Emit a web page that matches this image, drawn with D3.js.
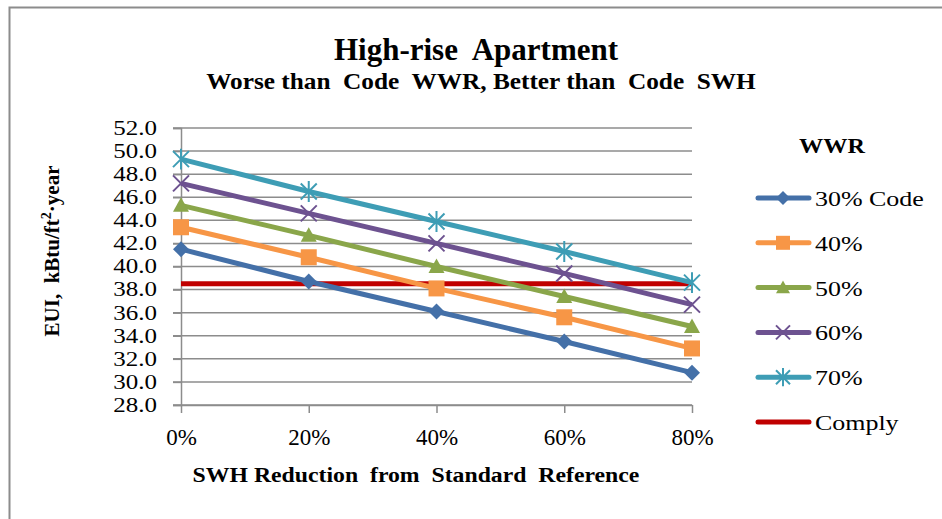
<!DOCTYPE html>
<html>
<head>
<meta charset="utf-8">
<script src="https://cdn.jsdelivr.net/npm/d3@7"></script>
<style>
  body { margin: 0; background: #fff; }
  svg { display: block; font-family: 'Liberation Serif', 'Times New Roman', serif; }
  svg text { white-space: pre; }
</style>
</head>
<body>
<div id="chart"></div>
<script>
// data
const categories = ['0%', '20%', '40%', '60%', '80%'];
const seriesNames = ['30% Code', '40%', '50%', '60%', '70%'];
const code30 = [41.5, 38.7, 36.1, 33.5, 30.8];
const wwr40 = [43.4, 40.8, 38.1, 35.6, 32.9];
const wwr50 = [45.3, 42.7, 40.0, 37.4, 34.8];
const wwr60 = [47.2, 44.6, 42.0, 39.4, 36.7];
const wwr70 = [49.3, 46.5, 43.9, 41.3, 38.6];
const comply = [38.5, 38.5, 38.5, 38.5, 38.5];
const yTicks = [28, 30, 32, 34, 36, 38, 40, 42, 44, 46, 48, 50, 52];

const width = 942;
const height = 519;

const colors = ['#4470a8', '#f79646', '#8aa64a', '#6d5290', '#3e9db5'];
const markers = ['diamond', 'square', 'triangle', 'x', 'star'];
const series = [code30, wwr40, wwr50, wwr60, wwr70];

const svg = d3
  .select('#chart')
  .append('svg')
  .attr('width', width)
  .attr('height', height);

// outer chart border (only top and left visible)
svg
  .append('rect')
  .attr('x', 9.5)
  .attr('y', 7.5)
  .attr('width', 1000)
  .attr('height', 600)
  .attr('fill', 'none')
  .attr('stroke', '#8c8c8c')
  .attr('stroke-width', 2);

const x = d3.scalePoint().domain(categories).range([181, 692]);
const y = d3.scaleLinear().domain([28, 52]).range([405, 128]);

// text in the reference is a bit wider than Times, stretch it
function stretch(sel, sx, origin) {
  sel
    .style('transform-box', 'fill-box')
    .style('transform-origin', origin)
    .style('transform', `scaleX(${sx})`);
}

// titles
svg
  .append('text')
  .attr('x', 476)
  .attr('y', 60)
  .attr('text-anchor', 'middle')
  .style('font-size', '31px')
  .style('font-weight', 'bold')
  .text('High-rise  Apartment');

svg
  .append('text')
  .attr('x', 481)
  .attr('y', 89)
  .attr('text-anchor', 'middle')
  .style('font-size', '23px')
  .style('font-weight', 'bold')
  .call(stretch, 1.1, 'center center')
  .text('Worse than  Code  WWR, Better than  Code  SWH');

// gridlines
svg
  .append('g')
  .attr('stroke', '#8c8c8c')
  .attr('stroke-width', 1.5)
  .selectAll('line')
  .data(yTicks)
  .join('line')
  .attr('x1', 173)
  .attr('x2', 692)
  .attr('y1', (d) => y(d))
  .attr('y2', (d) => y(d));

// y axis
const yAxis = svg
  .append('g')
  .attr('transform', 'translate(181,0)')
  .call(
    d3
      .axisLeft(y)
      .tickValues(yTicks)
      .tickFormat(d3.format('.1f'))
      .tickSize(8)
      .tickPadding(16)
  );
yAxis.attr('font-family', null).attr('font-size', null);
yAxis.select('.domain').attr('stroke', '#8c8c8c').attr('stroke-width', 1.5);
yAxis.selectAll('.tick line').attr('stroke', '#8c8c8c').attr('stroke-width', 1.5);
yAxis
  .selectAll('.tick text')
  .style('font-size', '20px')
  .attr('fill', '#000')
  .call(stretch, 1.25, 'right center');

// x axis
const xAxis = svg
  .append('g')
  .attr('transform', 'translate(0,405)')
  .call(d3.axisBottom(x).tickSize(8).tickPadding(16).tickSizeOuter(0));
xAxis.attr('font-family', null).attr('font-size', null);
xAxis.select('.domain').attr('stroke', '#8c8c8c').attr('stroke-width', 1.5);
xAxis.selectAll('.tick line').attr('stroke', '#8c8c8c').attr('stroke-width', 1.5);
xAxis
  .selectAll('.tick text')
  .style('font-size', '23px')
  .attr('fill', '#000');

// axis titles
svg
  .append('text')
  .attr('x', 416)
  .attr('y', 482)
  .attr('text-anchor', 'middle')
  .style('font-size', '22px')
  .style('font-weight', 'bold')
  .call(stretch, 1.08, 'center center')
  .text('SWH Reduction  from  Standard  Reference');

const yTitle = svg
  .append('text')
  .attr('transform', 'translate(59,251) rotate(-90)')
  .attr('text-anchor', 'middle')
  .style('font-size', '21px')
  .style('font-weight', 'bold');
yTitle.append('tspan').text('EUI,  kBtu/ft');
yTitle.append('tspan').attr('dy', -8).style('font-size', '14px').text('2');
yTitle.append('tspan').attr('dy', 8).text('·year');

// marker paths
function markerPath(type, s) {
  if (type === 'diamond')
    return `M0,${-s}L${s},0L0,${s}L${-s},0Z`;
  if (type === 'square')
    return `M${-s},${-s}H${s}V${s}H${-s}Z`;
  if (type === 'triangle')
    return `M0,${-s}L${s},${s * 0.8}H${-s}Z`;
  if (type === 'x')
    return `M${-s},${-s}L${s},${s}M${s},${-s}L${-s},${s}`;
  if (type === 'star')
    return `M${-s},${-s}L${s},${s}M${s},${-s}L${-s},${s}M0,${-s * 1.3}V${s * 1.3}`;
  return '';
}

const line = d3
  .line()
  .x((d, i) => x(categories[i]))
  .y((d) => y(d));

// comply line
svg
  .append('path')
  .datum(comply)
  .attr('fill', 'none')
  .attr('stroke', '#c00000')
  .attr('stroke-width', 5)
  .attr('d', line);

// series lines and markers
series.forEach((vals, k) => {
  const g = svg.append('g');
  g.append('path')
    .datum(vals)
    .attr('fill', 'none')
    .attr('stroke', colors[k])
    .attr('stroke-width', 5)
    .attr('d', line);
  const stroked = markers[k] === 'x' || markers[k] === 'star';
  g.selectAll('path.m')
    .data(vals)
    .join('path')
    .attr('class', 'm')
    .attr('transform', (d, i) => `translate(${x(categories[i])},${y(d)})`)
    .attr('d', markerPath(markers[k], 8))
    .attr('fill', stroked ? 'none' : colors[k])
    .attr('stroke', colors[k])
    .attr('stroke-width', stroked ? 2 : 0);
});

// legend
const legend = svg.append('g');
legend
  .append('text')
  .attr('x', 832)
  .attr('y', 153)
  .attr('text-anchor', 'middle')
  .style('font-size', '22px')
  .style('font-weight', 'bold')
  .call(stretch, 1.1, 'center center')
  .text('WWR');

const legendNames = seriesNames.concat(['Comply']);
const legendColors = colors.concat(['#c00000']);
const legendMarkers = markers.concat(['none']);

const item = legend
  .selectAll('g.item')
  .data(legendNames)
  .join('g')
  .attr('class', 'item')
  .attr('transform', (d, i) => `translate(0,${198 + i * 44.8})`);

item
  .append('line')
  .attr('x1', 758)
  .attr('x2', 809)
  .attr('stroke', (d, i) => legendColors[i])
  .attr('stroke-width', 5)
  .attr('stroke-linecap', 'round');

item
  .append('path')
  .attr('transform', 'translate(783,0)')
  .attr('d', (d, i) => markerPath(legendMarkers[i], 7))
  .attr('fill', (d, i) =>
    legendMarkers[i] === 'x' || legendMarkers[i] === 'star' ? 'none' : legendColors[i]
  )
  .attr('stroke', (d, i) => legendColors[i])
  .attr('stroke-width', (d, i) =>
    legendMarkers[i] === 'x' || legendMarkers[i] === 'star' ? 2 : 0
  );

item
  .append('text')
  .attr('x', 815)
  .attr('y', 8)
  .style('font-size', '22px')
  .call(stretch, 1.18, 'left center')
  .text((d) => d);
</script>
</body>
</html>
